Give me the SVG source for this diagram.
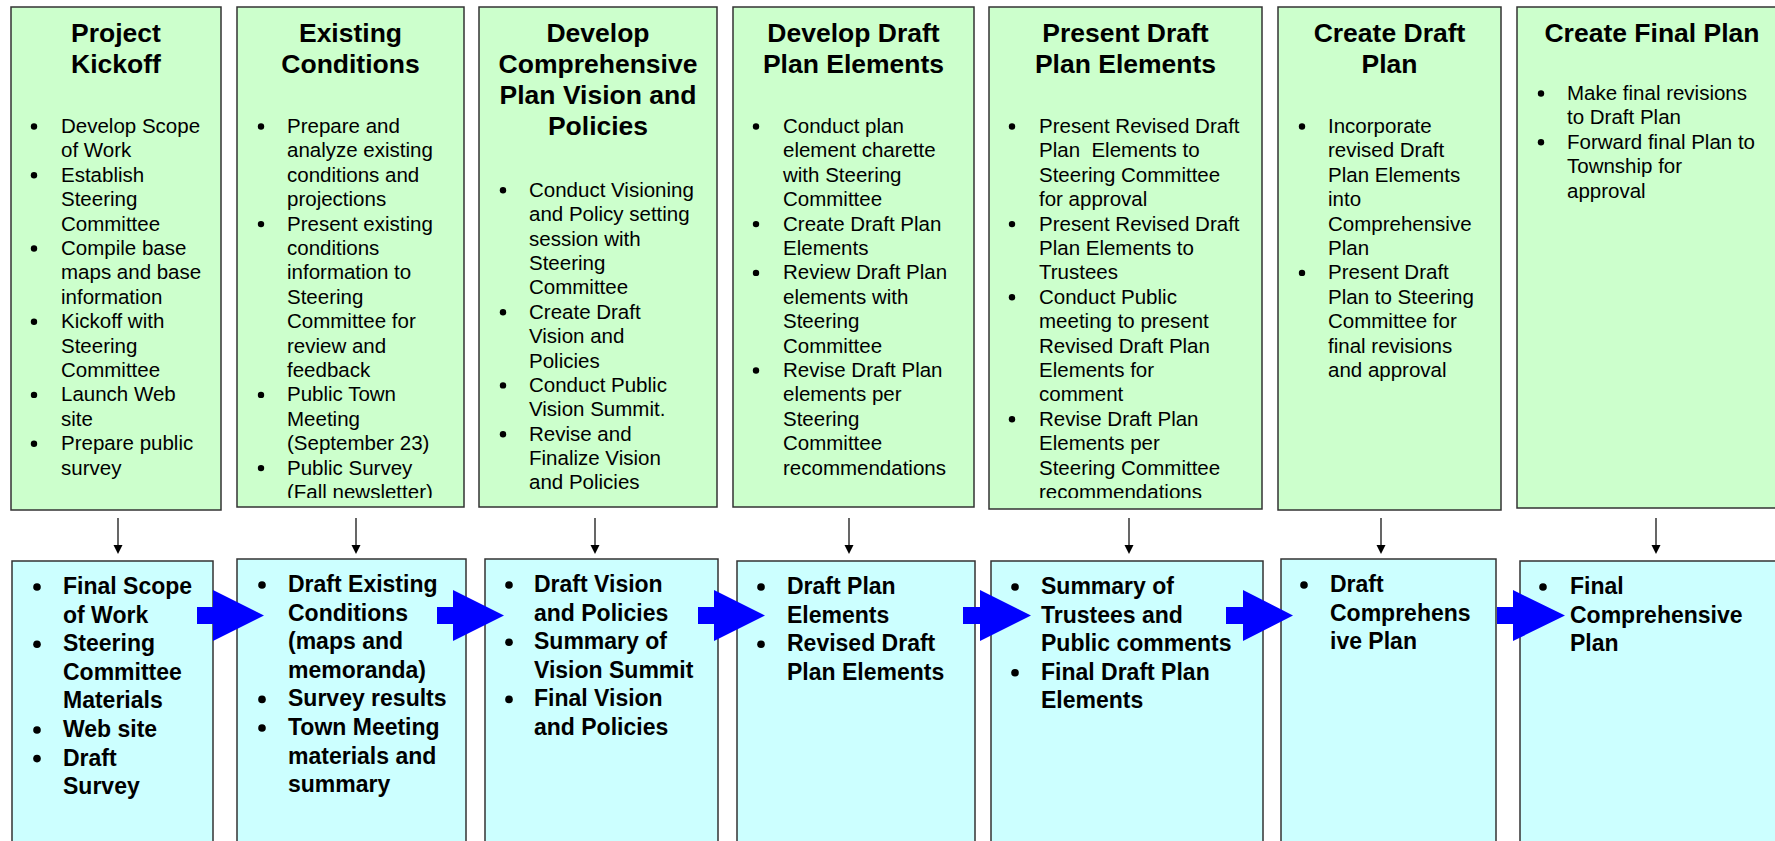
<svg xmlns="http://www.w3.org/2000/svg" width="1775" height="841" viewBox="0 0 1775 841">
<style>
.g{fill:#CCFFCC;stroke:#333;stroke-width:1.5}
.b{fill:#CCFFFF;stroke:#333;stroke-width:1.5}
.h{font-family:"Liberation Sans",Arial,sans-serif;font-weight:bold;font-size:26.5px;fill:#000;text-anchor:middle}
.t{font-family:"Liberation Sans",Arial,sans-serif;font-size:20.5px;fill:#000}
.o{font-family:"Liberation Sans",Arial,sans-serif;font-weight:bold;font-size:23px;fill:#000}
.dl{stroke:#000;stroke-width:1.2;fill:none}
.dh{fill:#000}
.ba{fill:#0000FF}
</style>
<defs>
<clipPath id="c2"><rect x="237" y="7" width="227" height="491"/></clipPath>
<clipPath id="c5"><rect x="989" y="7" width="273" height="491"/></clipPath>
</defs>

<g id="phase1">
<rect class="g" x="11" y="7" width="210" height="503"/>
<text class="h"><tspan x="116" y="42">Project</tspan><tspan x="116" dy="31">Kickoff</tspan></text>
<g fill="#000"><circle cx="34" cy="126.5" r="3.2"/><circle cx="34" cy="175.3" r="3.2"/><circle cx="34" cy="248.5" r="3.2"/><circle cx="34" cy="321.7" r="3.2"/><circle cx="34" cy="394.9" r="3.2"/><circle cx="34" cy="443.7" r="3.2"/></g>
<text class="t"><tspan x="61" y="133">Develop Scope</tspan><tspan x="61" dy="24.4">of Work</tspan><tspan x="61" dy="24.4">Establish</tspan><tspan x="61" dy="24.4">Steering</tspan><tspan x="61" dy="24.4">Committee</tspan><tspan x="61" dy="24.4">Compile base</tspan><tspan x="61" dy="24.4">maps and base</tspan><tspan x="61" dy="24.4">information</tspan><tspan x="61" dy="24.4">Kickoff with</tspan><tspan x="61" dy="24.4">Steering</tspan><tspan x="61" dy="24.4">Committee</tspan><tspan x="61" dy="24.4">Launch Web</tspan><tspan x="61" dy="24.4">site</tspan><tspan x="61" dy="24.4">Prepare public</tspan><tspan x="61" dy="24.4">survey</tspan></text>
</g>

<g id="phase2">
<rect class="g" x="237" y="7" width="227" height="500"/>
<text class="h"><tspan x="350.5" y="42">Existing</tspan><tspan x="350.5" dy="31">Conditions</tspan></text>
<g fill="#000"><circle cx="261" cy="126.5" r="3.2"/><circle cx="261" cy="224.1" r="3.2"/><circle cx="261" cy="394.9" r="3.2"/><circle cx="261" cy="468.1" r="3.2"/></g>
<text class="t" clip-path="url(#c2)"><tspan x="287" y="133">Prepare and</tspan><tspan x="287" dy="24.4">analyze existing</tspan><tspan x="287" dy="24.4">conditions and</tspan><tspan x="287" dy="24.4">projections</tspan><tspan x="287" dy="24.4">Present existing</tspan><tspan x="287" dy="24.4">conditions</tspan><tspan x="287" dy="24.4">information to</tspan><tspan x="287" dy="24.4">Steering</tspan><tspan x="287" dy="24.4">Committee for</tspan><tspan x="287" dy="24.4">review and</tspan><tspan x="287" dy="24.4">feedback</tspan><tspan x="287" dy="24.4">Public Town</tspan><tspan x="287" dy="24.4">Meeting</tspan><tspan x="287" dy="24.4">(September 23)</tspan><tspan x="287" dy="24.4">Public Survey</tspan><tspan x="287" dy="24.4">(Fall newsletter)</tspan></text>
</g>

<g id="phase3">
<rect class="g" x="479" y="7" width="238" height="500"/>
<text class="h"><tspan x="598" y="42">Develop</tspan><tspan x="598" dy="31">Comprehensive</tspan><tspan x="598" dy="31">Plan Vision and</tspan><tspan x="598" dy="31">Policies</tspan></text>
<g fill="#000"><circle cx="503" cy="190.2" r="3.2"/><circle cx="503" cy="312.2" r="3.2"/><circle cx="503" cy="385.4" r="3.2"/><circle cx="503" cy="434.2" r="3.2"/></g>
<text class="t"><tspan x="529" y="196.7">Conduct Visioning</tspan><tspan x="529" dy="24.4">and Policy setting</tspan><tspan x="529" dy="24.4">session with</tspan><tspan x="529" dy="24.4">Steering</tspan><tspan x="529" dy="24.4">Committee</tspan><tspan x="529" dy="24.4">Create Draft</tspan><tspan x="529" dy="24.4">Vision and</tspan><tspan x="529" dy="24.4">Policies</tspan><tspan x="529" dy="24.4">Conduct Public</tspan><tspan x="529" dy="24.4">Vision Summit.</tspan><tspan x="529" dy="24.4">Revise and</tspan><tspan x="529" dy="24.4">Finalize Vision</tspan><tspan x="529" dy="24.4">and Policies</tspan></text>
</g>

<g id="phase4">
<rect class="g" x="733" y="7" width="241" height="500"/>
<text class="h"><tspan x="853.5" y="42">Develop Draft</tspan><tspan x="853.5" dy="31">Plan Elements</tspan></text>
<g fill="#000"><circle cx="756" cy="126.5" r="3.2"/><circle cx="756" cy="224.1" r="3.2"/><circle cx="756" cy="272.9" r="3.2"/><circle cx="756" cy="370.5" r="3.2"/></g>
<text class="t"><tspan x="783" y="133">Conduct plan</tspan><tspan x="783" dy="24.4">element charette</tspan><tspan x="783" dy="24.4">with Steering</tspan><tspan x="783" dy="24.4">Committee</tspan><tspan x="783" dy="24.4">Create Draft Plan</tspan><tspan x="783" dy="24.4">Elements</tspan><tspan x="783" dy="24.4">Review Draft Plan</tspan><tspan x="783" dy="24.4">elements with</tspan><tspan x="783" dy="24.4">Steering</tspan><tspan x="783" dy="24.4">Committee</tspan><tspan x="783" dy="24.4">Revise Draft Plan</tspan><tspan x="783" dy="24.4">elements per</tspan><tspan x="783" dy="24.4">Steering</tspan><tspan x="783" dy="24.4">Committee</tspan><tspan x="783" dy="24.4">recommendations</tspan></text>
</g>

<g id="phase5">
<rect class="g" x="989" y="7" width="273" height="502"/>
<text class="h"><tspan x="1125.5" y="42">Present Draft</tspan><tspan x="1125.5" dy="31">Plan Elements</tspan></text>
<g fill="#000"><circle cx="1012" cy="126.5" r="3.2"/><circle cx="1012" cy="224.1" r="3.2"/><circle cx="1012" cy="297.3" r="3.2"/><circle cx="1012" cy="419.3" r="3.2"/></g>
<text class="t" clip-path="url(#c5)" xml:space="preserve"><tspan x="1039" y="133">Present Revised Draft</tspan><tspan x="1039" dy="24.4">Plan  Elements to</tspan><tspan x="1039" dy="24.4">Steering Committee</tspan><tspan x="1039" dy="24.4">for approval</tspan><tspan x="1039" dy="24.4">Present Revised Draft</tspan><tspan x="1039" dy="24.4">Plan Elements to</tspan><tspan x="1039" dy="24.4">Trustees</tspan><tspan x="1039" dy="24.4">Conduct Public</tspan><tspan x="1039" dy="24.4">meeting to present</tspan><tspan x="1039" dy="24.4">Revised Draft Plan</tspan><tspan x="1039" dy="24.4">Elements for</tspan><tspan x="1039" dy="24.4">comment</tspan><tspan x="1039" dy="24.4">Revise Draft Plan</tspan><tspan x="1039" dy="24.4">Elements per</tspan><tspan x="1039" dy="24.4">Steering Committee</tspan><tspan x="1039" dy="24.4">recommendations</tspan></text>
</g>

<g id="phase6">
<rect class="g" x="1278" y="7" width="223" height="503"/>
<text class="h"><tspan x="1389.5" y="42">Create Draft</tspan><tspan x="1389.5" dy="31">Plan</tspan></text>
<g fill="#000"><circle cx="1302" cy="126.5" r="3.2"/><circle cx="1302" cy="272.9" r="3.2"/></g>
<text class="t"><tspan x="1328" y="133">Incorporate</tspan><tspan x="1328" dy="24.4">revised Draft</tspan><tspan x="1328" dy="24.4">Plan Elements</tspan><tspan x="1328" dy="24.4">into</tspan><tspan x="1328" dy="24.4">Comprehensive</tspan><tspan x="1328" dy="24.4">Plan</tspan><tspan x="1328" dy="24.4">Present Draft</tspan><tspan x="1328" dy="24.4">Plan to Steering</tspan><tspan x="1328" dy="24.4">Committee for</tspan><tspan x="1328" dy="24.4">final revisions</tspan><tspan x="1328" dy="24.4">and approval</tspan></text>
</g>

<g id="phase7">
<rect class="g" x="1517" y="7" width="270" height="501"/>
<text class="h"><tspan x="1652" y="42">Create Final Plan</tspan></text>
<g fill="#000"><circle cx="1541" cy="93.5" r="3.2"/><circle cx="1541" cy="142.3" r="3.2"/></g>
<text class="t"><tspan x="1567" y="100">Make final revisions</tspan><tspan x="1567" dy="24.4">to Draft Plan</tspan><tspan x="1567" dy="24.4">Forward final Plan to</tspan><tspan x="1567" dy="24.4">Township for</tspan><tspan x="1567" dy="24.4">approval</tspan></text>
</g>

<g id="output1">
<rect class="b" x="12" y="561" width="201" height="300"/>
<g fill="#000"><circle cx="37" cy="587" r="3.8"/><circle cx="37" cy="644.2" r="3.8"/><circle cx="37" cy="730" r="3.8"/><circle cx="37" cy="758.6" r="3.8"/></g>
<text class="o"><tspan x="63" y="594">Final Scope</tspan><tspan x="63" dy="28.6">of Work</tspan><tspan x="63" dy="28.6">Steering</tspan><tspan x="63" dy="28.6">Committee</tspan><tspan x="63" dy="28.6">Materials</tspan><tspan x="63" dy="28.6">Web site</tspan><tspan x="63" dy="28.6">Draft</tspan><tspan x="63" dy="28.6">Survey</tspan></text>
</g>

<g id="output2">
<rect class="b" x="237" y="559" width="229" height="300"/>
<g fill="#000"><circle cx="262" cy="585" r="3.8"/><circle cx="262" cy="699.4" r="3.8"/><circle cx="262" cy="728" r="3.8"/></g>
<text class="o"><tspan x="288" y="592">Draft Existing</tspan><tspan x="288" dy="28.6">Conditions</tspan><tspan x="288" dy="28.6">(maps and</tspan><tspan x="288" dy="28.6">memoranda)</tspan><tspan x="288" dy="28.6">Survey results</tspan><tspan x="288" dy="28.6">Town Meeting</tspan><tspan x="288" dy="28.6">materials and</tspan><tspan x="288" dy="28.6">summary</tspan></text>
</g>

<g id="output3">
<rect class="b" x="485" y="559" width="233" height="300"/>
<g fill="#000"><circle cx="509" cy="585" r="3.8"/><circle cx="509" cy="642.2" r="3.8"/><circle cx="509" cy="699.4" r="3.8"/></g>
<text class="o"><tspan x="534" y="592">Draft Vision</tspan><tspan x="534" dy="28.6">and Policies</tspan><tspan x="534" dy="28.6">Summary of</tspan><tspan x="534" dy="28.6">Vision Summit</tspan><tspan x="534" dy="28.6">Final Vision</tspan><tspan x="534" dy="28.6">and Policies</tspan></text>
</g>

<g id="output4">
<rect class="b" x="737" y="561" width="238" height="300"/>
<g fill="#000"><circle cx="761" cy="587" r="3.8"/><circle cx="761" cy="644.2" r="3.8"/></g>
<text class="o"><tspan x="787" y="594">Draft Plan</tspan><tspan x="787" dy="28.6">Elements</tspan><tspan x="787" dy="28.6">Revised Draft</tspan><tspan x="787" dy="28.6">Plan Elements</tspan></text>
</g>

<g id="output5">
<rect class="b" x="991" y="561" width="272" height="300"/>
<g fill="#000"><circle cx="1015" cy="587" r="3.8"/><circle cx="1015" cy="672.8" r="3.8"/></g>
<text class="o"><tspan x="1041" y="594">Summary of</tspan><tspan x="1041" dy="28.6">Trustees and</tspan><tspan x="1041" dy="28.6">Public comments</tspan><tspan x="1041" dy="28.6">Final Draft Plan</tspan><tspan x="1041" dy="28.6">Elements</tspan></text>
</g>

<g id="output6">
<rect class="b" x="1281" y="559" width="215" height="300"/>
<g fill="#000"><circle cx="1304" cy="585" r="3.8"/></g>
<text class="o"><tspan x="1330" y="592">Draft</tspan><tspan x="1330" dy="28.6">Comprehens</tspan><tspan x="1330" dy="28.6">ive Plan</tspan></text>
</g>

<g id="output7">
<rect class="b" x="1520" y="561" width="270" height="300"/>
<g fill="#000"><circle cx="1543" cy="587" r="3.8"/></g>
<text class="o"><tspan x="1570" y="594">Final</tspan><tspan x="1570" dy="28.6">Comprehensive</tspan><tspan x="1570" dy="28.6">Plan</tspan></text>
</g>

<g id="connectors">
<g class="dl">
<line x1="118" y1="518" x2="118" y2="546"/>
<line x1="356" y1="518" x2="356" y2="546"/>
<line x1="595" y1="518" x2="595" y2="546"/>
<line x1="849" y1="518" x2="849" y2="546"/>
<line x1="1129" y1="518" x2="1129" y2="546"/>
<line x1="1381" y1="518" x2="1381" y2="546"/>
<line x1="1656" y1="518" x2="1656" y2="546"/>
</g>
<g class="dh">
<polygon points="113.5,545 122.5,545 118,554"/>
<polygon points="351.5,545 360.5,545 356,554"/>
<polygon points="590.5,545 599.5,545 595,554"/>
<polygon points="844.5,545 853.5,545 849,554"/>
<polygon points="1124.5,545 1133.5,545 1129,554"/>
<polygon points="1376.5,545 1385.5,545 1381,554"/>
<polygon points="1651.5,545 1660.5,545 1656,554"/>
</g>
<g class="ba">
<polygon points="197,607 213,607 213,590 264,615.5 213,641 213,624 197,624"/>
<polygon points="437,607 453,607 453,590 504,615.5 453,641 453,624 437,624"/>
<polygon points="698,607 714,607 714,590 765,615.5 714,641 714,624 698,624"/>
<polygon points="963,607 980,607 980,590 1031,615.5 980,641 980,624 963,624"/>
<polygon points="1226,607 1243,607 1243,590 1293,615.5 1243,641 1243,624 1226,624"/>
<polygon points="1497,607 1513,607 1513,590 1565,615.5 1513,641 1513,624 1497,624"/>
</g>
</g>
</svg>
